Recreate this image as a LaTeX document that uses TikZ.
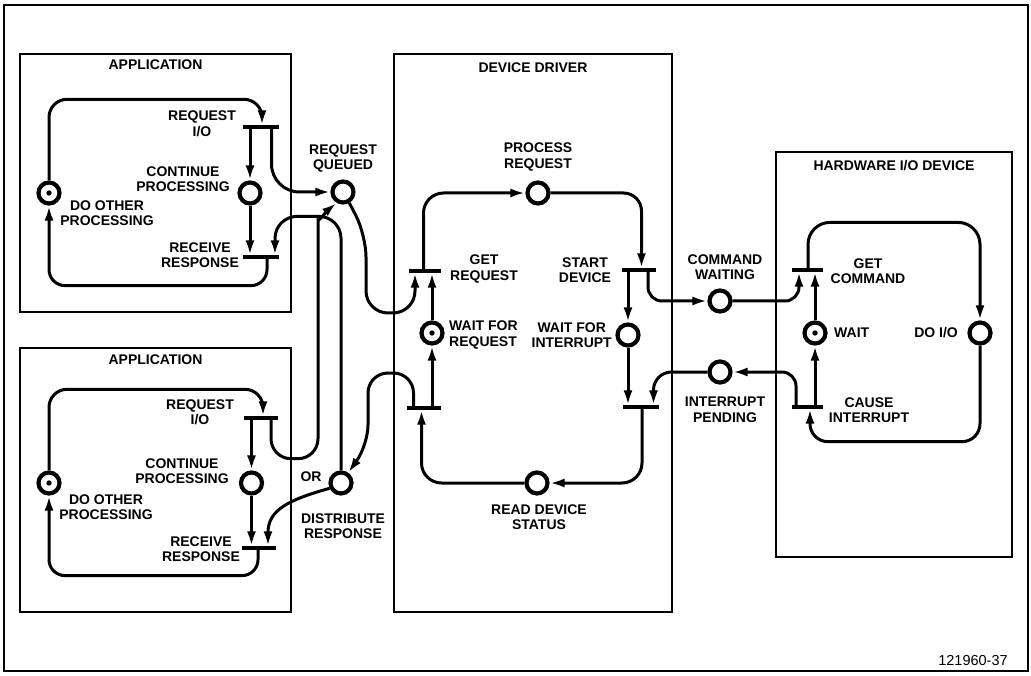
\documentclass[tikz,border=0pt]{standalone}
\usepackage{fontspec}
\setmainfont{Liberation Sans}
\usetikzlibrary{arrows.meta,calc}

\begin{document}
\begin{tikzpicture}[x=1pt,y=-1pt,
    font=\fontsize{14}{15.5}\selectfont\bfseries,
    box/.style={draw,line width=1.3pt},
    place/.style={circle,draw,line width=4.2pt,minimum size=21pt,inner sep=0pt},
    token/.style={place,path picture={\fill (path picture bounding box.center) circle (2.7pt);}},
    trans/.style={rectangle,fill,minimum width=34pt,minimum height=3.4pt,inner sep=0pt,outer sep=0pt},
    lbl/.style={align=center,inner sep=0pt},
    flow/.style={line width=3pt,rounded corners=18pt,-{Latex[length=15pt,width=9pt]}}]
  \useasboundingbox (0,0) rectangle (1031,676);
  \draw[line width=2pt] (4,5) rectangle (1028,671);
  \draw[box] (20,54) rectangle (291,312);
  \draw[box] (20,348) rectangle (291,612);
  \draw[box] (394,54) rectangle (672,612);
  \draw[box] (776,152) rectangle (1012,557);
  \node (app1) at (155.5,65) {APPLICATION};
  \node (app2) at (155.5,360) {APPLICATION};
  \node (drv) at (533,68) {DEVICE DRIVER};
  \node (hw) at (894,166) {HARDWARE I/O DEVICE};

  % application 1
  \node[token] (dop1) at (49,193) {};
  \node[place] (cp1) at (250,193) {};
  \node[trans,minimum width=36pt] (rq1) at (260.5,127) {};
  \node[trans,minimum width=36pt] (rr1) at (261,257) {};
  \node[lbl] (dop1l) at (107,213) {DO OTHER\\PROCESSING};
  \node[lbl] (cp1l) at (183,179) {CONTINUE\\PROCESSING};
  \node[lbl] (rq1l) at (202,124) {REQUEST\\I/O};
  \node[lbl] (rr1l) at (200,255) {RECEIVE\\RESPONSE};

  % application 2
  \node[token] (dop2) at (49,483) {};
  \node[place] (cp2) at (251.5,483) {};
  \node[trans] (rq2) at (261,418) {};
  \node[trans] (rr2) at (259,548) {};
  \node[lbl] (dop2l) at (106,507) {DO OTHER\\PROCESSING};
  \node[lbl] (cp2l) at (182,471) {CONTINUE\\PROCESSING};
  \node[lbl] (rq2l) at (200,412.5) {REQUEST\\I/O};
  \node[lbl] (rr2l) at (201,549) {RECEIVE\\RESPONSE};

  % queue and response
  \node[place] (rqq) at (343,192) {};
  \node[place] (dr) at (341,483) {};
  \node[lbl] (rqql) at (343,158.5) {REQUEST\\QUEUED};
  \node[lbl] (drl) at (343,526) {DISTRIBUTE\\RESPONSE};
  \node[lbl] (orl) at (311,477) {OR};

  % device driver
  \node[trans,minimum width=32pt] (gr) at (425,271) {};
  \node[place] (pr) at (538,193) {};
  \node[trans] (sd) at (639,270) {};
  \node[token] (wr) at (432,333) {};
  \node[place] (wi) at (628,335) {};
  \node[trans] (tl) at (424,408) {};
  \node[trans,minimum width=36pt] (tr) at (640.5,407) {};
  \node[place] (rds) at (537,483) {};
  \node[lbl] (prl) at (538,157) {PROCESS\\REQUEST};
  \node[lbl] (grl) at (484,269) {GET\\REQUEST};
  \node[lbl] (sdl) at (585,270) {START\\DEVICE};
  \node[lbl,align=left,anchor=west] (wrl) at (449,335) {WAIT FOR\\REQUEST};
  \node[lbl,anchor=east] (wil) at (612,335) {WAIT FOR\\INTERRUPT};
  \node[lbl] (rdsl) at (539,517) {READ DEVICE\\STATUS};

  % between driver and device
  \node[place] (cw) at (720,301) {};
  \node[place] (ip) at (720,372) {};
  \node[lbl] (cwl) at (725,267) {COMMAND\\WAITING};
  \node[lbl] (ipl) at (725,410) {INTERRUPT\\PENDING};

  % hardware
  \node[trans,minimum width=31pt] (gc) at (807,270) {};
  \node[token] (wt) at (815,333) {};
  \node[place] (dio) at (980,333) {};
  \node[trans,minimum width=31pt] (ci) at (807,407) {};
  \node[lbl] (gcl) at (868,271) {GET\\COMMAND};
  \node[lbl,anchor=west] (wtl) at (834,333) {WAIT};
  \node[lbl,anchor=east] (diol) at (958,333) {DO I/O};
  \node[lbl] (cil) at (869,410) {CAUSE\\INTERRUPT};

  \node[font=\fontsize{14.5}{16}\selectfont\mdseries] (fig) at (973,661) {121960-37};

  % arcs, application 1
  \draw[flow] (dop1.north) |- ($(rq1.north)+(1.5,-26)$) -- ([xshift=1.5pt]rq1.north);
  \draw[flow] (cp1 |- rq1.south) -- (cp1.north);
  \draw[flow] (cp1.south) -- (cp1 |- rr1.north);
  \draw[flow,rounded corners=28pt] ([xshift=11pt]rq1.south) |- (rqq.west);
  \draw[flow,rounded corners=16pt] ([xshift=6pt]rr1.south) |- ($(dop1.south)+(0,80)$) -- (dop1.south);
  \draw[flow,rounded corners=22pt] (dr.north) -- ($(dr.north)+(0,-254)$) -| ([xshift=14pt]rr1.north);

  % arcs, application 2
  \draw[flow] (dop2.north) |- ($(rq2.north)+(2,-27)$) -- ([xshift=2pt]rq2.north);
  \draw[flow] (cp2 |- rq2.south) -- (cp2.north);
  \draw[flow] (cp2.south) -- (cp2 |- rr2.north);
  \draw[flow,rounded corners=16pt] ([xshift=-1pt]rr2.south) |- ($(dop2.south)+(0,80)$) -- (dop2.south);
  \draw[flow,rounded corners=20pt] ([xshift=10pt]rq2.south) -- ++(0,39) -| (318,240)
    .. controls (318,222) and (328,210) .. (rqq.240);
  \draw[flow] (dr.205) .. controls (288,500) and (268,510) .. ([xshift=9pt]rr2.north);

  % arcs, device driver
  \draw[flow,rounded corners=22pt] (rqq.-60) -- (366,235) -- (366,313) -| ([xshift=-10pt]gr.south);
  \draw[flow] (wr.north) -- (wr |- gr.south);
  \draw[flow,rounded corners=20pt] ([xshift=-1.5pt]gr.north) |- (pr.west);
  \draw[flow,rounded corners=18pt] (pr.east) -| ([xshift=2.5pt]sd.north);
  \draw[flow] (wi |- sd.south) -- (wi.north);
  \draw[flow,rounded corners=14pt] ([xshift=9pt]sd.south) |- (cw.west);
  \draw[flow] (wi.south) -- (wi |- tr.north);
  \draw[flow,rounded corners=18pt] (ip.west) -| ([xshift=13pt]tr.north);
  \draw[flow,rounded corners=20pt] ([xshift=1.5pt]tr.south) |- (rds.east);
  \draw[flow,rounded corners=20pt] (rds.west) -| ([xshift=-2.5pt]tl.south);
  \draw[flow] (wr |- tl.north) -- (wr.south);
  \draw[flow,rounded corners=20pt] ([xshift=-10.5pt]tl.north) |- (368,373) -- (368,445) -- (dr.55);

  % arcs, hardware
  \draw[flow,rounded corners=14pt] (cw.east) -| ([xshift=-8pt]gc.south);
  \draw[flow] (wt.north) -- (wt |- gc.south);
  \draw[flow,rounded corners=22pt] ([xshift=1pt]gc.north) |- ($(dio.north)+(0,-98)$) -- (dio.north);
  \draw[flow,rounded corners=18pt] (dio.south) |- ($(ci.south)+(3,33)$) -- ([xshift=3pt]ci.south);
  \draw[flow] (wt |- ci.north) -- (wt.south);
  \draw[flow,rounded corners=14pt] ([xshift=-11pt]ci.north) |- (ip.east);
\end{tikzpicture}
\end{document}
